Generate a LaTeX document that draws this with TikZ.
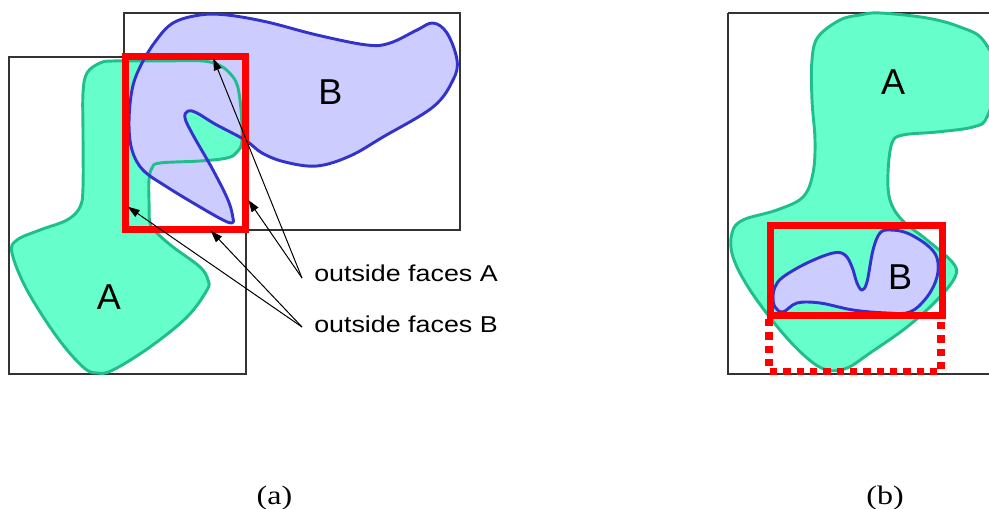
\documentclass[tikz,border=0pt]{standalone}
\usepackage{fontspec}
\setmainfont{Liberation Serif}
\newfontfamily\labfont[FakeStretch=1.17]{Liberation Sans}
\newfontfamily\bigfont{Liberation Sans}
\newfontfamily\capfont[FakeStretch=1.2]{Liberation Serif}
\usetikzlibrary{arrows.meta}
\definecolor{greenfill}{RGB}{102,255,204}
\definecolor{greenline}{RGB}{32,190,140}
\definecolor{bluefill}{RGB}{204,204,255}
\definecolor{blueline}{RGB}{51,51,204}
\definecolor{boxline}{RGB}{51,51,51}
\definecolor{redline}{RGB}{255,0,0}
\begin{document}
\begin{tikzpicture}[x=0.75pt,y=-0.75pt,
  frame/.style={draw=boxline,line width=0.8pt},
  afill/.style={fill=greenfill},
  bfill/.style={fill=bluefill},
  aline/.style={draw=greenline,line width=2.2pt,line join=round},
  bline/.style={draw=blueline,line width=2.2pt,line join=round},
  redbox/.style={draw=redline,line width=5.25pt},
  reddot/.style={draw=redline,line width=5.5pt,dash pattern=on 5.5pt off 4.5pt},
  biglab/.style={font=\bigfont\fontsize{27}{30}\selectfont,inner sep=0pt},
  sidelab/.style={font=\labfont\fontsize{17.2}{20}\selectfont,inner sep=0pt,anchor=base west},
  caplab/.style={font=\capfont\fontsize{20}{22}\selectfont,inner sep=0pt},
  arr/.style={draw=black,line width=0.75pt,-{Triangle[length=9pt,width=6pt]}}
]
\useasboundingbox (0,0) rectangle (989,509);
\begin{scope}
\clip (0,0) rectangle (989,509);
% ---------- (a) ----------
\draw[frame] (9,57) rectangle (246,374);
\draw[frame] (124,13) rectangle (460,230);
\def\shapeAa{plot[smooth cycle,tension=0.6] coordinates {
 (113,61) (160,61) (210,62) (233,77) (240,100) (242,140) (237,152) (227,158)
 (200,161) (160,163) (152,168) (149,180) (149,200) (150,223) (157,233) (173,247)
 (200,267) (208,280) (207,290) (187,317) (150,347) (113,370) (97,373) (83,367)
 (57,337) (27,290) (12,253) (17,240) (40,230) (67,220) (80,207) (83,187)
 (83,133) (83,93) (87,73) (100,63)}}
\def\shapeBa{plot[smooth cycle,tension=0.6] coordinates {
 (200,15) (227,15) (267,22) (317,35) (367,45) (390,43) (417,30) (433,23)
 (447,33) (457,60) (453,80) (433,107) (383,137) (350,156) (317,166) (285,162)
 (262,153) (245,140) (215,124) (197,113) (188,111) (185,118) (193,135) (213,170)
 (228,200) (233,218) (232,223) (223,220) (200,207) (167,187) (143,170) (132,150)
 (129,123) (132,90) (140,67) (155,42) (173,23)}}
\path[afill] \shapeAa;
\path[bfill] \shapeBa;
\path[aline] \shapeAa;
\path[bline] \shapeBa;
\draw[redbox] (125,56.7) rectangle (245.2,229.2);
% ---------- (b) ----------
\draw[frame] (728,13) -- (1000,13);
\draw[frame] (728,13) -- (728,374) -- (1000,374);
\def\shapeAb{plot[smooth cycle,tension=0.6] coordinates {
 (880,13) (927,18) (960,27) (983,40) (998,75) (987,117) (973,127) (937,132)
 (903,135) (892,143) (888,173) (890,200) (902,220) (927,240) (953,263) (955,277)
 (937,300) (907,327) (870,353) (847,368) (827,370) (807,358) (780,330) (750,290)
 (733,257) (732,233) (743,220) (777,210) (803,197) (813,173) (815,140) (812,100)
 (812,60) (818,37) (840,20) (860,15)}}
\def\shapeBb{plot[smooth cycle,tension=0.6] coordinates {
 (775,287) (783,277) (807,263) (833,253) (845,255) (852,267) (857,283) (862,290)
 (867,282) (873,250) (880,233) (890,230) (907,233) (927,245) (937,258) (937,277)
 (927,297) (910,312) (887,313) (853,310) (820,303) (797,303) (783,312) (775,307)
 (773,297)}}
\path[afill] \shapeAb;
\path[bfill] \shapeBb;
\path[aline] \shapeAb;
\path[bline] \shapeBb;
\draw[reddot] (769,319) -- (769,371.5) -- (941,371.5) -- (941,319);
\draw[redbox] (770,225.5) rectangle (942,316);
\end{scope}
% labels
\node[biglab] (Ba) at (330.5,92.5) {B};
\node[biglab] (Aa) at (108.8,296.7) {A};
\node[biglab] (Ab) at (893,82) {A};
\node[biglab] (Bb) at (900,277) {B};
\node[sidelab] (labA) at (314,282) {outside faces A};
\node[sidelab] (labB) at (314,332.3) {outside faces B};
\node[caplab] (capa) at (274.5,498) {(a)};
\node[caplab] (capb) at (885,498) {(b)};
% arrows
\coordinate (cA) at (302,278);
\coordinate (cB) at (302,327);
\coordinate (tA1) at (213.3,58.3);
\coordinate (tA2) at (248.3,200);
\coordinate (tB1) at (210.7,230.7);
\coordinate (tB2) at (127.7,206.7);
\draw[arr] (cA) -- (tA1);
\draw[arr] (cA) -- (tA2);
\draw[arr] (cB) -- (tB1);
\draw[arr] (cB) -- (tB2);
\end{tikzpicture}
\end{document}
